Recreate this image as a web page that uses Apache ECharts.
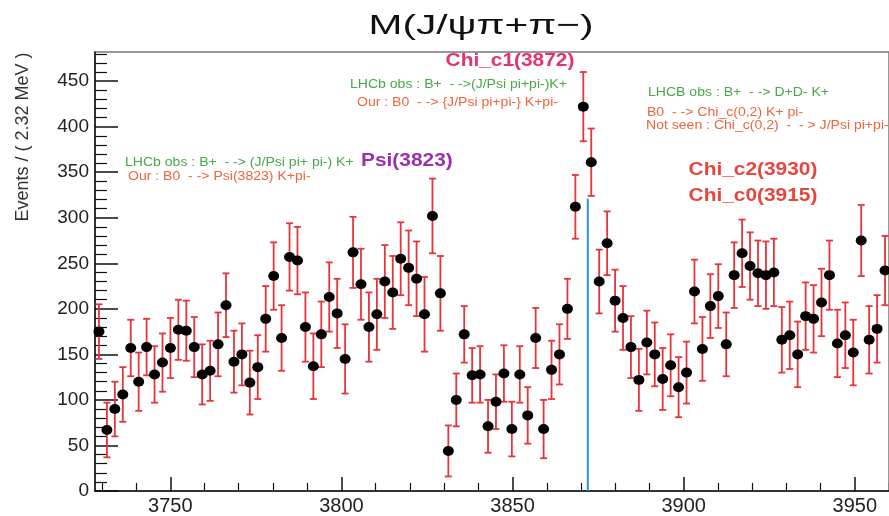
<!DOCTYPE html>
<html>
<head>
<meta charset="utf-8">
<script src="https://cdn.jsdelivr.net/npm/echarts@6/dist/echarts.min.js"></script>
<style>
  html, body { margin: 0; padding: 0; background: #fff; }
  #chart { width: 889px; height: 516px; }
</style>
</head>
<body>
<div id="chart"></div>
<script>
// histogram binning : 100 bins of 2.32 MeV
var massMin = 3728
var massMax = 3960
var binWidth = 2.32

// events per bin
var counts = [
  175, 67, 90, 106, 157, 120, 158, 128, 141, 157,
  177, 176, 158, 128, 132, 161, 204, 142, 150, 119,
  136, 189, 236, 168, 257, 253, 180, 137, 172, 213,
  195, 145, 262, 227, 180, 194, 230, 218, 255, 245,
  233, 194, 302, 217, 44, 100, 172, 127, 128, 71,
  98, 129, 68, 128, 83, 168, 68, 133, 150, 200,
  312, 422, 361, 230, 272, 209, 190, 158, 122, 163,
  150, 123, 138, 114, 130, 219, 156, 203, 214, 161,
  237, 261, 247, 239, 237, 240, 166, 171, 150, 192,
  189, 207, 237, 162, 171, 152, 275, 166, 178, 242
]

// half length of each error bar
var errors = [
  30, 30, 30, 30, 31, 32, 31, 31, 32, 33,
  33, 33, 33, 33, 33, 35, 35, 34, 34, 35,
  35, 36, 37, 36, 37, 37, 38, 36, 36, 38,
  38, 38, 39, 39, 38, 39, 40, 40, 40, 41,
  41, 41, 41, 41, 28, 29, 31, 30, 31, 29,
  30, 31, 30, 31, 31, 33, 32, 32, 33, 33,
  35, 38, 37, 35, 35, 34, 35, 34, 34, 35,
  35, 34, 34, 33, 34, 35, 35, 35, 35, 35,
  36, 37, 37, 36, 37, 37, 36, 37, 36, 37,
  37, 37, 38, 37, 36, 36, 39, 37, 37, 38
]

var xMajorTicks = [3750, 3800, 3850, 3900, 3950]
var xMinorTicks = [3730, 3740, 3760, 3770, 3780, 3790, 3810, 3820, 3830, 3840,
  3860, 3870, 3880, 3890, 3910, 3920, 3930, 3940, 3960]
var yMajorTicks = [0, 50, 100, 150, 200, 250, 300, 350, 400, 450]
var yMinorTicks = [10, 20, 30, 40, 60, 70, 80, 90, 110, 120, 130, 140, 160, 170, 180, 190,
  210, 220, 230, 240, 260, 270, 280, 290, 310, 320, 330, 340, 360, 370, 380, 390,
  410, 420, 430, 440, 460, 470, 480]
var yMax = 482

// X(3872) marker line
var chic1Line = [[3872, 0], [3872, 321]]

var FONT = '"Liberation Sans", Arial, sans-serif'
var GREEN = '#46a846'
var ORANGE = '#f0643a'

var points = counts.map(function (c, i) {
  return [massMin + binWidth * (i + 0.5), c, errors[i]]
})

function label(txt, x, y, color, size, bold, align, sx) {
  return {
    type: 'text',
    x: x, y: y,
    scaleX: sx || 1.17,
    silent: true,
    style: {
      text: txt, x: 0, y: 0,
      fill: color,
      font: (bold ? 'bold ' : '') + size + 'px ' + FONT,
      align: align || 'left',
      verticalAlign: 'middle'
    }
  }
}

function plain(v) { return String(v) }

var chart = echarts.init(document.getElementById('chart'))
var option = {
  animation: false,
  grid: {
    left: 95, top: 52, width: 795, height: 441,
    show: true, borderColor: '#777', borderWidth: 1.5
  },
  xAxis: [
    {
      type: 'value', min: massMin, max: massMax,
      axisLine: { show: true, lineStyle: { color: '#111', width: 1.5 } },
      axisTick: { inside: true, length: 14, customValues: xMajorTicks, lineStyle: { color: '#111', width: 1.5 } },
      axisLabel: { customValues: xMajorTicks, formatter: plain, fontFamily: FONT, fontSize: 20, color: '#222', margin: 5 },
      splitLine: { show: false }
    },
    {
      type: 'value', min: massMin, max: massMax, position: 'bottom',
      axisLine: { show: false },
      axisTick: { inside: true, length: 8, customValues: xMinorTicks, lineStyle: { color: '#111', width: 1.2 } },
      axisLabel: { show: false },
      splitLine: { show: false }
    }
  ],
  yAxis: [
    {
      type: 'value', min: 0, max: yMax,
      axisLine: { show: true, lineStyle: { color: '#111', width: 1.5 } },
      axisTick: { inside: true, length: 23, customValues: yMajorTicks, lineStyle: { color: '#111', width: 1.5 } },
      axisLabel: { customValues: yMajorTicks, formatter: plain, fontFamily: FONT, fontSize: 19, color: '#222', margin: 6 },
      splitLine: { show: false }
    },
    {
      type: 'value', min: 0, max: yMax, position: 'left',
      axisLine: { show: false },
      axisTick: { inside: true, length: 12, customValues: yMinorTicks, lineStyle: { color: '#111', width: 1.2 } },
      axisLabel: { show: false },
      splitLine: { show: false }
    }
  ],
  series: [
    {
      type: 'line',
      data: chic1Line,
      showSymbol: false,
      lineStyle: { color: '#2e90e0', width: 2 },
      z: 2
    },
    {
      type: 'custom',
      data: points,
      renderItem: function (params, api) {
        var x = api.value(0), y = api.value(1), e = api.value(2)
        var top = api.coord([x, y + e])
        var bot = api.coord([x, y - e])
        var cap = 3.5
        var st = { stroke: '#e8333a', lineWidth: 1.8 }
        return {
          type: 'group',
          children: [
            { type: 'line', shape: { x1: top[0], y1: top[1], x2: bot[0], y2: bot[1] }, style: st },
            { type: 'line', shape: { x1: top[0] - cap, y1: top[1], x2: top[0] + cap, y2: top[1] }, style: st },
            { type: 'line', shape: { x1: bot[0] - cap, y1: bot[1], x2: bot[0] + cap, y2: bot[1] }, style: st }
          ]
        }
      },
      z: 3
    },
    {
      type: 'scatter',
      data: points.map(function (p) { return [p[0], p[1]] }),
      symbol: 'circle',
      symbolSize: [11, 10],
      itemStyle: { color: '#000', opacity: 1 },
      z: 4
    }
  ],
  graphic: [
    label('M(J/\u03c8\u03c0+\u03c0\u2212)', 481, 26, '#111', 28, false, 'center', 1.45),
    {
      type: 'text', x: 23, y: 137, rotation: Math.PI / 2, silent: true,
      style: { text: 'Events / ( 2.32 MeV )', x: 0, y: 0, fill: '#333', font: '18px ' + FONT, align: 'center', verticalAlign: 'middle' }
    },
    label('Chi_c1(3872)', 510, 61, '#e6336b', 18, true, 'center', 1.16),
    label('LHCb obs : B+  - ->(J/Psi pi+pi-)K+', 350, 85, GREEN, 12),
    label('Our : B0  - -> {J/Psi pi+pi-} K+pi-', 357, 103, ORANGE, 12),
    label('Psi(3823)', 361, 161, '#9b2fae', 18, true, 'left', 1.16),
    label('LHCb obs : B+  - -> (J/Psi pi+ pi-) K+', 125, 163, GREEN, 12),
    label('Our : B0  - -> Psi(3823) K+pi-', 128, 177, ORANGE, 12),
    label('LHCB obs : B+  - -> D+D- K+', 648, 93, GREEN, 12),
    label('B0  - -> Chi_c(0,2) K+ pi-', 647, 113, ORANGE, 12),
    label('Not seen : Chi_c(0,2)  -  - > J/Psi pi+pi-', 646, 126, ORANGE, 12),
    label('Chi_c2(3930)', 753, 170, '#e8453c', 18, true, 'center', 1.16),
    label('Chi_c0(3915)', 753, 196, '#e8453c', 18, true, 'center', 1.16)
  ]
}
chart.setOption(option)
</script>
</body>
</html>
